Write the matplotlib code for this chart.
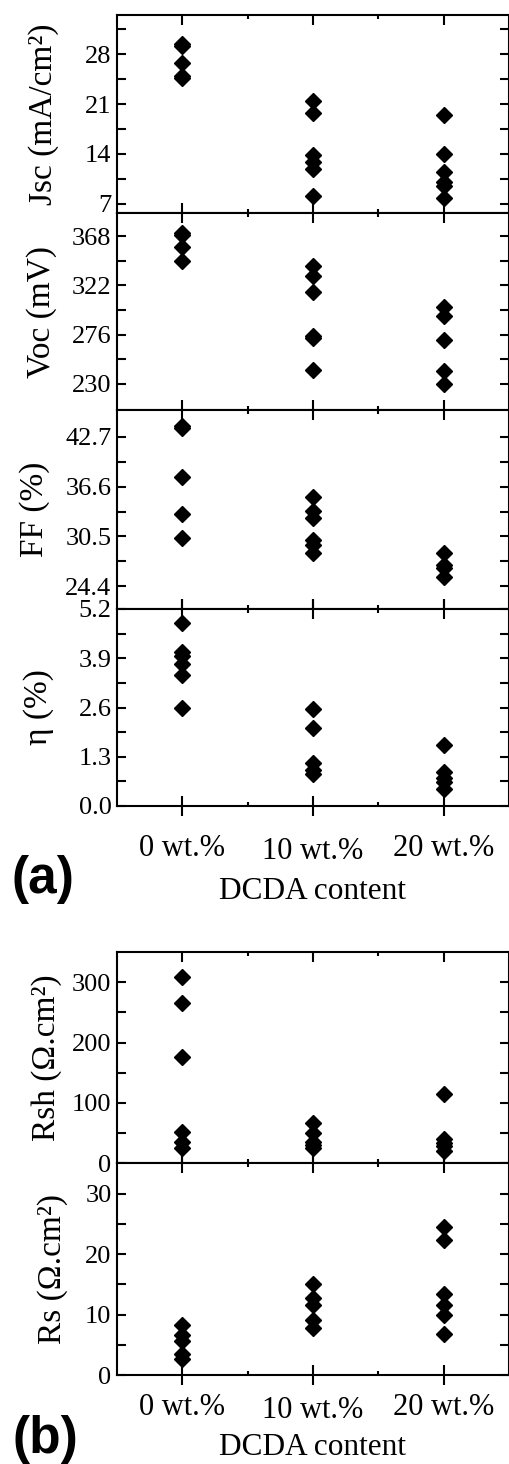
import numpy as np
import matplotlib.pyplot as plt
from matplotlib.ticker import MultipleLocator, FixedLocator

plt.rcParams['font.family'] = ['Liberation Serif', 'DejaVu Serif']

categories = ['0 wt.%', '10 wt.%', '20 wt.%']

# one list per DCDA content
jsc = [[29.4, 29.2, 26.8, 24.9, 24.6],
       [21.4, 19.7, 13.8, 12.8, 11.9, 8.1],
       [19.5, 14.0, 11.4, 10.0, 9.5, 7.8]]
voc = [[371, 369, 357.5, 344.7],
       [340, 330.6, 315.5, 275, 273, 243],
       [302, 293.4, 270.6, 242, 230]]
ff = [[44.0, 43.85, 37.8, 33.3, 30.3],
      [35.3, 33.65, 32.8, 30.1, 29.5, 28.5],
      [28.5, 27.0, 26.6, 25.5]]
eta = [[4.82, 4.06, 3.95, 3.75, 3.45, 2.6],
       [2.57, 2.05, 1.13, 0.95, 0.85],
       [1.62, 0.9, 0.73, 0.64, 0.45]]
rsh = [[309, 265, 176.6, 52.4, 35.8, 24.9],
       [67.3, 50.7, 35.8, 30, 24.9],
       [115.5, 39.8, 33, 28, 20.9]]
rs = [[8.2, 6.6, 5.6, 3.4, 2.7],
      [15.0, 12.65, 11.5, 9.05, 7.7],
      [24.5, 22.4, 13.4, 11.5, 9.9, 6.7]]

W, H = 510, 1464
fig = plt.figure(figsize=(W / 100, H / 100), dpi=100)


def add_panel(top, bottom):
    return fig.add_axes([117 / W, 1 - bottom / H, (509 - 117) / W, (bottom - top) / H])


def draw(ax, data, ylim, major, minor, ylabel, labx, last=False, pad=13):
    for i, vals in enumerate(data):
        ax.plot([i] * len(vals), vals, 'D', color='black', ms=7.8, mec='black')
    ax.set_xlim(-0.5, 2.5)
    ax.set_ylim(*ylim)
    ax.yaxis.set_major_locator(FixedLocator(major))
    ax.yaxis.set_minor_locator(FixedLocator(minor))
    ax.xaxis.set_major_locator(FixedLocator([0, 1, 2]))
    ax.xaxis.set_minor_locator(FixedLocator([0.5, 1.5]))
    for s in ax.spines.values():
        s.set_linewidth(1.5)
    ax.tick_params(which='both', direction='in', top=True, right=True, width=1.5)
    ax.tick_params(axis='y', which='both', length=6.5, labelsize=19, pad=4)
    ax.tick_params(axis='x', which='major', length=7.2)
    ax.tick_params(axis='x', which='minor', length=3)
    ax.set_ylabel(ylabel, fontsize=24)
    ax.yaxis.set_label_coords(labx, 0.5)
    if last:
        ax.tick_params(axis='x', which='major', direction='inout', length=14.4,
                       labelsize=22, pad=pad)
        ax.tick_params(axis='x', which='major', top=True)
        ax.set_xticks([0, 1, 2], categories)
        ax.xaxis.get_major_ticks()[1].set_pad(pad + 2)
    else:
        ax.tick_params(axis='x', labelbottom=False)


# (a)
tops = [15, 213, 410, 609, 806]
ax1 = add_panel(tops[0], tops[1])
draw(ax1, jsc, (5.7, 33.5), [7, 14, 21, 28], [10.5, 17.5, 24.5, 31.5],
     'Jsc (mA/cm²)', -0.148)
ax2 = add_panel(tops[1], tops[2])
draw(ax2, voc, (205.7, 389.5), [230, 276, 322, 368], [253, 299, 345],
     'Voc (mV)', -0.153)
ax3 = add_panel(tops[2], tops[3])
draw(ax3, ff, (21.6, 46.0), [24.4, 30.5, 36.6, 42.7], [27.45, 33.55, 39.65],
     'FF (%)', -0.17)
ax3.yaxis.set_major_formatter(plt.FormatStrFormatter('%.1f'))
ax4 = add_panel(tops[3], tops[4])
draw(ax4, eta, (0, 5.2), [0, 1.3, 2.6, 3.9, 5.2], [0.65, 1.95, 3.25, 4.55],
     'η (%)', -0.161, last=True, pad=13)
ax4.yaxis.set_major_formatter(plt.FormatStrFormatter('%.1f'))
ax4.set_xlabel('DCDA content', fontsize=22.5, labelpad=8)

# (b)
ax5 = add_panel(952, 1163.3)
draw(ax5, rsh, (0, 350), [0, 100, 200, 300], [50, 150, 250],
     'Rsh (Ω.cm²)', -0.14)
ax6 = add_panel(1163.3, 1375)
draw(ax6, rs, (0, 35), [0, 10, 20, 30], [5, 15, 25],
     'Rs (Ω.cm²)', -0.125, last=True, pad=5.8)
ax6.set_xlabel('DCDA content', fontsize=22.5, labelpad=6)

fig.text(12 / W, 1 - 893 / H, '(a)', family='Liberation Sans', weight='bold',
         fontsize=37, ha='left', va='baseline')
fig.text(13 / W, 1 - 1453 / H, '(b)', family='Liberation Sans', weight='bold',
         fontsize=37, ha='left', va='baseline')

fig.savefig('out.png', dpi=100)
